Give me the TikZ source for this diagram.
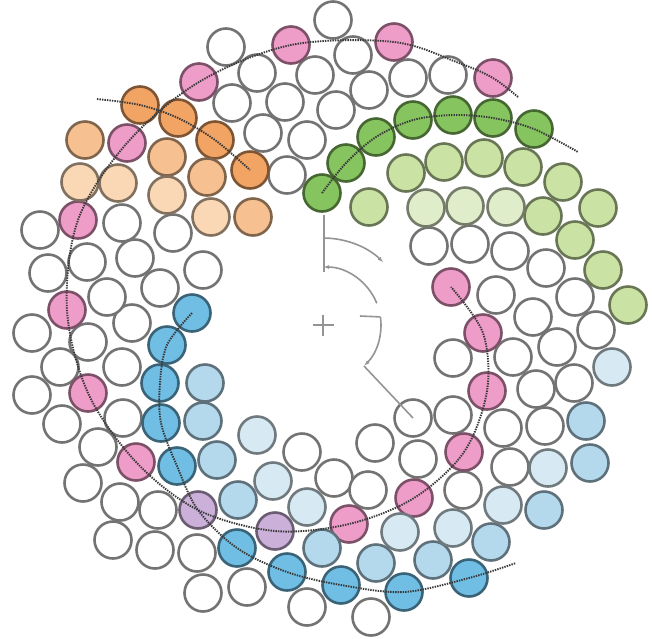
\documentclass[tikz,border=0pt]{standalone}
\usetikzlibrary{arrows.meta}
\definecolor{pk}{RGB}{238,156,200}
\definecolor{od}{RGB}{242,164,100}
\definecolor{om}{RGB}{246,192,144}
\definecolor{ol}{RGB}{250,216,182}
\definecolor{gd}{RGB}{134,196,96}
\definecolor{gl}{RGB}{202,226,164}
\definecolor{gv}{RGB}{224,237,202}
\definecolor{bd}{RGB}{112,190,228}
\definecolor{bl}{RGB}{180,217,236}
\definecolor{bv}{RGB}{215,234,243}
\definecolor{pu}{RGB}{203,176,218}
\begin{document}
\begin{tikzpicture}[x=1pt,y=-1pt,
  cell/.style={circle, inner sep=0pt, minimum size=37pt, line width=2.6pt},
  cw/.style={cell, fill=white, draw=black!55},
  cf/.style={cell, fill=#1, draw=#1!52!black},
  spiral/.style={line width=1.9pt, black!78, dash pattern=on 1.4pt off 1.1pt},
  guide/.style={line width=1.6pt, black!42},
  tip/.style={-{Latex[length=6pt,width=4pt]}}]
\fill[white] (0,0) rectangle (652,638);
\useasboundingbox (0,0) rectangle (652,638);
% white cells
\foreach \x/\y [count=\i] in {333/20,226/47,353/55,257/73,315/75,408/78,448/75,369/90,232/103,285/102,336/110,263/133,307/140,287/175,40/230,122/223,173/233,
429/246,470/244,510/251,546/268,496/295,575/297,533/317,596/330,453/358,513/357,557/347,536/389,574/383,413/418,453/415,503/428,545/426,375/443,418/459,510/467,
334/478,368/490,463/490,371/617,307/607,247/587,203/593,197/553,155/550,113/540,158/510,120/502,83/483,302/452,98/447,62/424,123/418,32/395,60/367,122/367,32/333,88/342,132/323,107/297,160/288,48/273,87/262,135/258,203/270}
  \node[cw] (w\i) at (\x,\y) {};
% pink cells
\foreach \x/\y [count=\i] in {291/45,394/42,199/82,493/78,127/143,78/220,451/287,483/333,487/391,464/452,414/498,349/524,136/462,88/393,67/310}
  \node[cf=pk] (p\i) at (\x,\y) {};
% orange cells
\foreach \x/\y [count=\i] in {140/105,178/118,215/140,250/170}
  \node[cf=od] (od\i) at (\x,\y) {};
\foreach \x/\y [count=\i] in {85/140,167/157,207/177,253/217}
  \node[cf=om] (om\i) at (\x,\y) {};
\foreach \x/\y [count=\i] in {80/182,118/183,167/195,211/217}
  \node[cf=ol] (ol\i) at (\x,\y) {};
% green cells
\foreach \x/\y [count=\i] in {322/193,346/163,376/137,413/120,453/115,493/118,534/129}
  \node[cf=gd] (gd\i) at (\x,\y) {};
\foreach \x/\y [count=\i] in {406/173,444/162,484/158,523/167,563/182,369/207,543/216,598/208,575/240,603/270,628/305}
  \node[cf=gl] (gl\i) at (\x,\y) {};
\foreach \x/\y [count=\i] in {426/208,465/206,506/207}
  \node[cf=gv] (gv\i) at (\x,\y) {};
% blue cells
\foreach \x/\y [count=\i] in {192/313,167/345,160/383,161/423,177/466,237/548,287/572,341/585,404/592,469/578}
  \node[cf=bd] (bd\i) at (\x,\y) {};
\foreach \x/\y [count=\i] in {205/383,203/421,217/460,238/500,322/548,376/563,433/560,491/542,544/510,586/421,590/463}
  \node[cf=bl] (bl\i) at (\x,\y) {};
\foreach \x/\y [count=\i] in {257/435,273/481,307/507,400/532,453/528,503/505,548/468,612/367}
  \node[cf=bv] (bv\i) at (\x,\y) {};
\foreach \x/\y [count=\i] in {198/510,275/531}
  \node[cf=pu] (pu\i) at (\x,\y) {};
% dotted paths
\draw[spiral] plot[smooth, tension=0.55] coordinates {(518,97) (493,78) (459,63) (394,42) (291,45) (199,82) (127,143) (78,220) (67,310) (88,393) (136,462) (198,510) (275,531) (349,524) (414,498) (464,452) (487,391) (483,333) (451,287)};
\draw[spiral] plot[smooth, tension=0.55] coordinates {(192,313) (167,345) (160,383) (161,423) (177,466) (198,510) (237,548) (287,572) (341,585) (404,592) (469,578) (516,563)};
\draw[spiral] plot[smooth, tension=0.55] coordinates {(97,99) (140,105) (178,118) (215,140) (250,170)};
\draw[spiral] plot[smooth, tension=0.55] coordinates {(322,193) (346,163) (376,137) (413,120) (453,115) (493,118) (534,129) (578,152)};
% centre marks and arcs
\coordinate (ctr) at (323,325);
\draw[guide] (313,325) -- (334,325) (323,315) -- (323,336);
\coordinate (vtop) at (324,215);
\coordinate (vbot) at (324,272);
\draw[guide] (vtop) -- (vbot);
\draw[guide, tip] (323,238) arc[start angle=90, end angle=46, radius=87pt];
\draw[guide, tip] (376.8,303.3) arc[start angle=22, end angle=90, radius=58pt];
\coordinate (t1) at (360,316);
\coordinate (t2) at (380.4,316.9);
\draw[guide] (t1) -- (t2);
\draw[guide, tip] (t2) arc[start angle=8, end angle=-45, radius=58pt] coordinate (aend);
\draw[guide] (aend) -- (w31.center);
\end{tikzpicture}
\end{document}
